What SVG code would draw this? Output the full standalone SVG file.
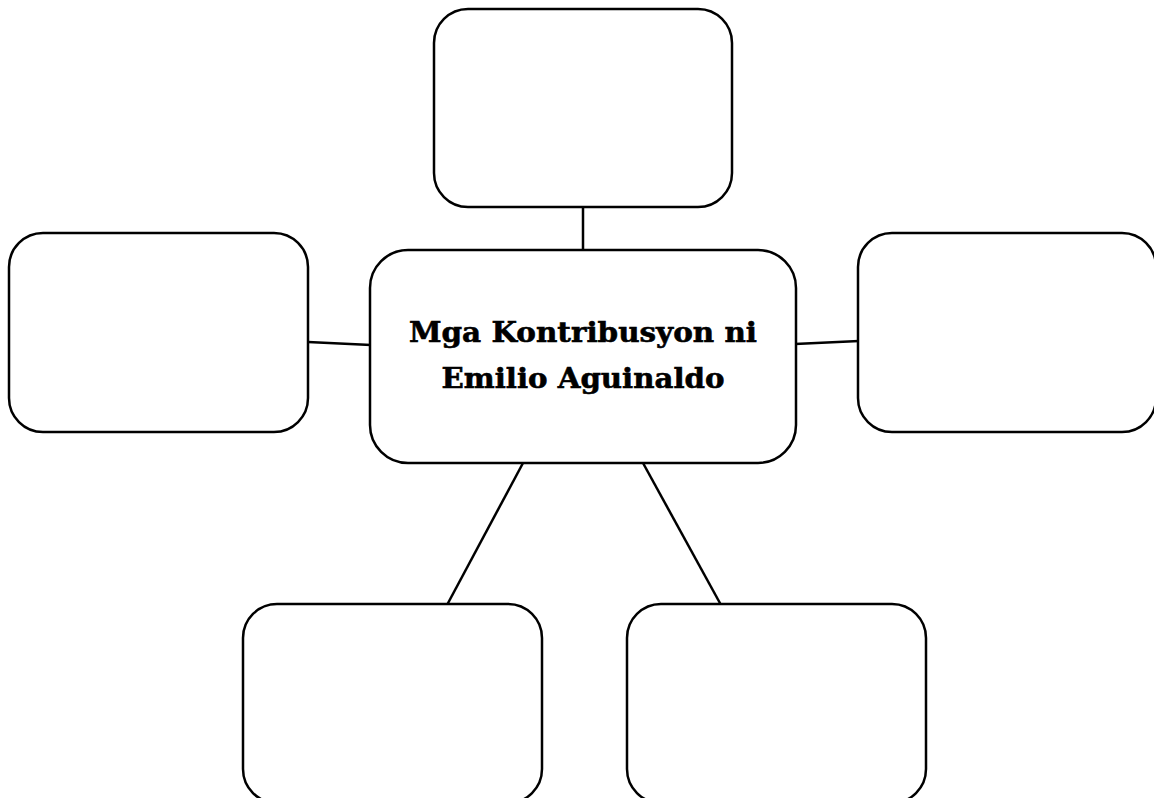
<svg xmlns="http://www.w3.org/2000/svg" width="1154" height="798" viewBox="0 0 1154 798">
<style>
.box{fill:#fff;stroke:#000;stroke-width:2.5}
.con{stroke:#000;stroke-width:2.5;fill:none}
.t{font-family:"DejaVu Serif",serif;font-weight:bold;font-size:28px;fill:#000;text-anchor:middle;stroke:#000;stroke-width:0.6}
</style>
<rect width="1154" height="798" fill="#fff"/>
<g id="connectors">
<line class="con" x1="583" y1="207" x2="583" y2="251"/>
<line class="con" x1="308" y1="342" x2="371" y2="345"/>
<line class="con" x1="795" y1="344" x2="859" y2="341"/>
<line class="con" x1="523" y1="463" x2="447" y2="605"/>
<line class="con" x1="643" y1="463" x2="721" y2="605"/>
</g>
<g id="top"><rect class="box" x="434" y="9" width="298" height="198" rx="34"/></g>
<g id="left"><rect class="box" x="9" y="233" width="299" height="199" rx="34"/></g>
<g id="right"><rect class="box" x="858" y="233" width="298" height="199" rx="34"/></g>
<g id="bottom-left"><rect class="box" x="243" y="604" width="299" height="199" rx="34"/></g>
<g id="bottom-right"><rect class="box" x="627" y="604" width="299" height="199" rx="34"/></g>
<g id="center">
<rect class="box" x="370" y="250" width="426" height="213" rx="38"/>
<text class="t" x="583" y="342" textLength="348" lengthAdjust="spacingAndGlyphs">Mga Kontribusyon ni</text>
<text class="t" x="583" y="388" textLength="283" lengthAdjust="spacingAndGlyphs">Emilio Aguinaldo</text>
</g>
</svg>
